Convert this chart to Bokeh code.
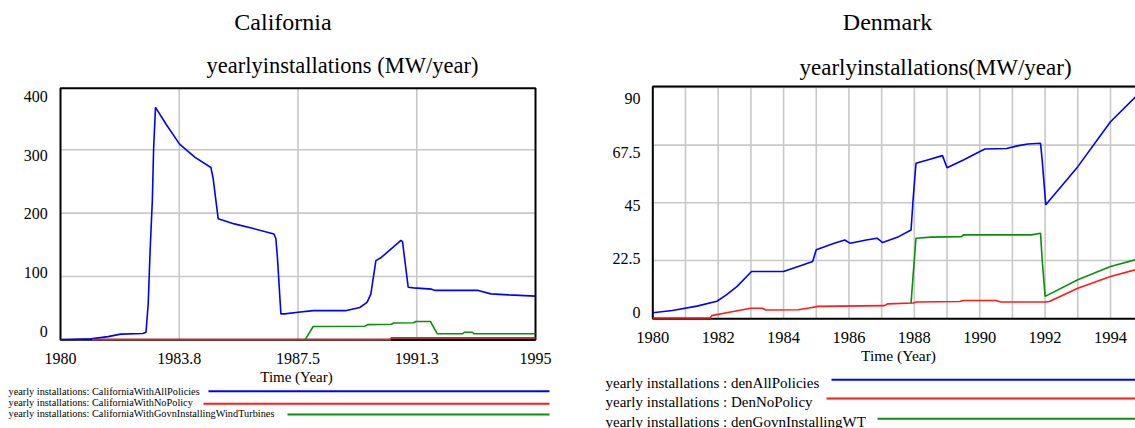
from bokeh.plotting import figure
from bokeh.models import Range1d
from bokeh.embed import file_html
from bokeh.resources import INLINE
from bokeh.core.properties import value

FONT = "Liberation Serif"
BLUE, RED, GREEN, BLACK = "#0000ff", "#ff1a1a", "#0a8f0a", "#000000"
GRID = "#c8c8c8"

# ---------------- California data ----------------
ca_all_t = [1980, 1980.96, 1981.5, 1981.9, 1982.6, 1982.7, 1982.77, 1982.83, 1982.9, 1982.94,
            1983.0, 1983.34, 1983.76, 1984.25, 1984.75, 1984.82, 1984.98, 1985.49, 1986.06,
            1986.74, 1986.8, 1986.85, 1986.96, 1987.08, 1987.5, 1987.98, 1989.0, 1989.45,
            1989.68, 1989.8, 1989.96, 1990.13, 1990.75, 1990.8, 1990.98, 1991.15, 1991.72,
            1991.83, 1993.19, 1993.59, 1994.15, 1995]
ca_all_v = [0, 1.5, 5, 9, 10, 12, 57, 141, 220, 301,
            367, 340, 309, 288, 272, 255, 191, 183, 176,
            167, 160, 130, 41, 41, 43.6, 46, 46, 51,
            59, 72, 125, 130, 157, 155, 83, 82, 80,
            78, 78, 72.5, 71, 69]
ca_nopol_t = [1981.0, 1990.4, 1990.45, 1995]
ca_nopol_v = [0.5, 0.5, 3, 3]
ca_govn_t = [1987.72, 1987.98, 1989.6, 1989.7, 1990.45, 1990.52, 1991.15, 1991.22, 1991.68,
             1991.9, 1992.7, 1992.75, 1993.0, 1993.07, 1995]
ca_govn_v = [0, 21, 21.5, 24, 24.5, 26.5, 27, 29, 29,
             9.5, 9.5, 12, 12, 9.5, 9.5]
ca_base_t = [1990.45, 1995]
ca_base_v = [0, 0]
ca_xlim = [1980, 1995]
ca_ylim = [0, 397.3]
ca_xticks = [1980, 1983.75, 1987.5, 1991.25, 1995]
ca_xlabels = ["1980", "1983.8", "1987.5", "1991.3", "1995"]
ca_xgrid = [1983.75, 1987.5, 1991.25]
ca_yticks = [0, 100, 200, 300, 400]
ca_ylabels = ["0", "100", "200", "300", "400"]
ca_ygrid = [100, 200, 300]
ca_legend = ["yearly installations: CaliforniaWithAllPolicies",
             "yearly installations: CaliforniaWithNoPolicy",
             "yearly installations: CaliforniaWithGovnInstallingWindTurbines"]

# ---------------- Denmark data ----------------
dk_all_t = [1980, 1980.6, 1981.35, 1981.96, 1982.25, 1982.58, 1983.02, 1984.0, 1984.45, 1984.89,
            1985.0, 1985.55, 1985.87, 1986.04, 1986.53, 1986.86, 1987.03, 1987.52, 1987.9,
            1987.96, 1988.05, 1988.4, 1988.86, 1989.0, 1989.5, 1990.05, 1990.16, 1990.82,
            1991.15, 1991.47, 1991.86, 1991.91, 1992.02, 1993.0, 1994.0, 1994.82, 1995]
dk_all_v = [2.1, 3.0, 4.7, 6.6, 9.1, 12.4, 18.2, 18.2, 20.2, 22.1,
            26.7, 29.2, 30.5, 29.2, 30.5, 31.2, 29.5, 31.8, 34.4,
            46, 60.4, 61.7, 63.4, 58.7, 61.7, 65.3, 66, 66.2,
            67.2, 67.9, 68.2, 61.7, 44.2, 59.1, 76.6, 87, 89.5]
dk_nopol_t = [1980, 1981.76, 1981.8, 1982.26, 1983.0, 1983.35, 1983.46, 1984.45, 1984.78, 1985.05,
              1987.08, 1987.19, 1987.96, 1988.07, 1989.39, 1989.5, 1990.49, 1990.65, 1992.02,
              1992.13, 1993.0, 1994.0, 1994.82]
dk_nopol_v = [0.1, 0.1, 1.0, 2.1, 3.9, 3.9, 3.2, 3.3, 4.0, 4.6,
              4.9, 5.6, 5.9, 6.3, 6.5, 6.9, 6.9, 6.3, 6.3,
              6.5, 11.7, 16.3, 19.1]
dk_govn_t = [1987.9, 1987.96, 1988.05, 1988.51, 1989.44, 1989.5, 1991.58, 1991.86, 1991.91,
             1992.0, 1993.0, 1994.0, 1994.82]
dk_govn_v = [5.9, 16.3, 31.2, 31.6, 31.8, 32.5, 32.5, 33.1, 22.8,
             8.5, 15, 20.2, 23]
dk_xlim = [1980, 1996]
dk_ylim = [-0.23, 90.37]
dk_xticks = [1980, 1982, 1984, 1986, 1988, 1990, 1992, 1994]
dk_xlabels = ["1980", "1982", "1984", "1986", "1988", "1990", "1992", "1994"]
dk_xgrid = list(range(1981, 1996))
dk_yticks = [0, 22.5, 45, 67.5, 90]
dk_ylabels = ["0", "22.5", "45", "67.5", "90"]
dk_ygrid = [22.5, 45, 67.5, 90]
dk_legend = ["yearly installations : denAllPolicies",
             "yearly installations : DenNoPolicy",
             "yearly installations : denGovnInstallingWT"]

# ---------------- canvas ----------------
W, H = 1135, 428


def px_range(pa, va, pb, vb, c_start, c_end):
    """Range whose values va, vb fall on canvas pixels pa, pb."""
    s = (vb - va) / (pb - pa)
    return Range1d(va + (c_start - pa) * s, va + (c_end - pa) * s)


p = figure(width=W, height=H, x_range=Range1d(0, W), y_range=Range1d(H, 0),
           min_border=0, toolbar_location=None, output_backend="svg",
           x_axis_type=None, y_axis_type=None)
p.outline_line_color = None
p.background_fill_color = "white"
p.border_fill_color = "white"

# scales of the two charts (pixel placement of each plot box)
p.extra_x_ranges = {
    "cax": px_range(60, 1980, 535, 1995, 0, W),
    "dkx": px_range(652.3, 1980, 1110, 1994, 0, W),
}
p.extra_y_ranges = {
    "cay": px_range(339.3, 0, 149.3, 300, H, 0),
    "caylab": px_range(330.7, 0, 96, 400, H, 0),
    "dky": px_range(317.7, 0, 144.6, 67.5, H, 0),
    "dkylab": px_range(311.7, 0, 98.3, 90, H, 0),
}


def txt(x, y, s, size, align="center", **kw):
    p.text(x=x, y=y, text=s, text_font=value(FONT), text_font_size=value(f"{size}px"),
           text_align=align, text_baseline="middle", text_color="black", **kw)


# ---------- California panel ----------
ca = dict(x_range_name="cax", y_range_name="cay")
p.segment(x0=ca_xgrid, x1=ca_xgrid, y0=[ca_ylim[0]] * len(ca_xgrid), y1=[ca_ylim[1]] * len(ca_xgrid),
          line_color=GRID, line_width=1.6, **ca)
p.segment(x0=[ca_xlim[0]] * len(ca_ygrid), x1=[ca_xlim[1]] * len(ca_ygrid), y0=ca_ygrid, y1=ca_ygrid,
          line_color=GRID, line_width=1.6, **ca)
p.quad(left=[ca_xlim[0]], right=[ca_xlim[1]], bottom=[ca_ylim[0]], top=[ca_ylim[1]],
       fill_color=None, line_color="black", line_width=2, **ca)
p.line(ca_all_t, ca_all_v, line_color=BLUE, line_width=1.6, **ca)
p.line(ca_nopol_t, ca_nopol_v, line_color=RED, line_width=1.6, **ca)
p.line(ca_govn_t, ca_govn_v, line_color=GREEN, line_width=1.6, **ca)
p.line(ca_base_t, ca_base_v, line_color=BLACK, line_width=2, **ca)
txt(ca_xticks, [358] * len(ca_xticks), ca_xlabels, 16, x_range_name="cax")
txt([47.3] * len(ca_yticks), ca_yticks, ca_ylabels, 16, align="right", y_range_name="caylab")
txt([296], [376], ["Time (Year)"], 15)
txt([282.5], [21.5], ["California"], 24)
txt([342], [65], ["yearlyinstallations (MW/year)"], 22.5)
ca_leg_y = [390.7, 401.7, 412.7]
ca_line_y = [390.7, 403.3, 414]
txt([8] * 3, ca_leg_y, ca_legend, 10.3, align="left")
p.segment(x0=[208, 203, 287], x1=[549] * 3, y0=ca_line_y, y1=ca_line_y,
          line_color=[BLUE, RED, GREEN], line_width=2)

# ---------- Denmark panel ----------
dk = dict(x_range_name="dkx", y_range_name="dky")
p.segment(x0=dk_xgrid, x1=dk_xgrid, y0=[dk_ylim[0]] * len(dk_xgrid), y1=[dk_ylim[1]] * len(dk_xgrid),
          line_color=GRID, line_width=1.6, **dk)
p.segment(x0=[dk_xlim[0]] * len(dk_ygrid), x1=[dk_xlim[1]] * len(dk_ygrid), y0=dk_ygrid, y1=dk_ygrid,
          line_color=GRID, line_width=1.6, **dk)
p.line([dk_xlim[1], dk_xlim[0], dk_xlim[0], dk_xlim[1]],
       [dk_ylim[1], dk_ylim[1], dk_ylim[0], dk_ylim[0]],
       line_color="black", line_width=2, **dk)
p.line(dk_all_t, dk_all_v, line_color=BLUE, line_width=1.6, **dk)
p.line(dk_nopol_t, dk_nopol_v, line_color=RED, line_width=1.6, **dk)
p.line(dk_govn_t, dk_govn_v, line_color=GREEN, line_width=1.6, **dk)
txt(dk_xticks, [337] * len(dk_xticks), dk_xlabels, 16.5, x_range_name="dkx")
txt([640] * len(dk_yticks), dk_yticks, dk_ylabels, 16, align="right", y_range_name="dkylab")
txt([898], [355], ["Time (Year)"], 15.5)
txt([887], [21.5], ["Denmark"], 24)
txt([935], [67], ["yearlyinstallations(MW/year)"], 23)
dk_leg_y = [382.7, 401.7, 421]
dk_line_y = [379.3, 398, 418.3]
txt([605] * 3, dk_leg_y, dk_legend, 15, align="left")
p.segment(x0=[831, 826, 877], x1=[W] * 3, y0=dk_line_y, y1=dk_line_y,
          line_color=[BLUE, RED, GREEN], line_width=2)

open("out.html", "w").write(file_html(p, INLINE))
